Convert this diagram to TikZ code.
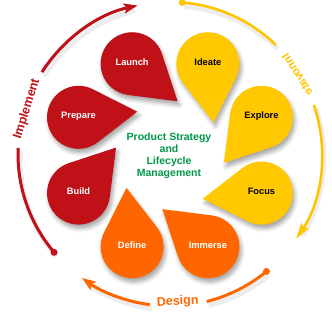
\documentclass[tikz,border=0pt]{standalone}
\usepackage{fontspec}
\setmainfont{Liberation Sans}
\usetikzlibrary{arrows.meta,shadows.blur}
\definecolor{pRed}{RGB}{192,16,24}
\definecolor{pYellow}{RGB}{255,200,0}
\definecolor{pOrange}{RGB}{255,102,0}
\definecolor{pGreen}{RGB}{0,150,72}
\definecolor{ringYellow}{RGB}{255,196,0}

\begin{document}
\begin{tikzpicture}[x=1pt,y=1pt,
  petallabel/.style={font=\fontsize{9.3}{11}\selectfont\bfseries, inner sep=0pt},
  petalshadow/.style={blur shadow={shadow xshift=2pt, shadow yshift=-4pt,
      shadow blur radius=4pt, shadow opacity=35}},
  ringline/.style={line width=3pt},
  ringshade/.style={line width=5pt, black, opacity=0.07},
  ringtip/.style={-{Stealth[length=14pt,width=10pt,inset=3pt]}},
  ringtext/.style={font=\fontsize{12.5}{14}\selectfont\bfseries, inner sep=0pt, transform shape},
  titletext/.style={font=\fontsize{10.5}{12.2}\selectfont\bfseries, align=center, inner sep=0pt}]
\useasboundingbox (-170,-178) rectangle (162,154);

% soft shadows under the three rings
\begin{scope}[xshift=2pt, yshift=-4pt]
  \draw[ringshade] (220.3:152pt) arc[start angle=220.3, end angle=177.7, radius=152pt];
  \draw[ringshade] (147.4:152pt) arc[start angle=147.4, end angle=104, radius=152pt];
  \draw[ringshade] (85.4:152pt) arc[start angle=85.4, end angle=45.8, radius=152pt];
  \draw[ringshade] (18.8:152pt) arc[start angle=18.8, end angle=-31, radius=152pt];
  \draw[ringshade] (-50.6:152pt) arc[start angle=-50.6, end angle=-76, radius=152pt];
  \draw[ringshade] (-97.6:152pt) arc[start angle=-97.6, end angle=-123, radius=152pt];
\end{scope}

% start points of the rings
\coordinate (implStart) at (220.3:152pt);
\coordinate (implResume) at (147.4:152pt);
\coordinate (innoStart) at (85.4:152pt);
\coordinate (innoResume) at (18.8:152pt);
\coordinate (desStart) at (-50.6:152pt);
\coordinate (desResume) at (-97.6:152pt);

% Implement ring (red)
\draw[ringline, pRed] (implStart) arc[start angle=220.3, end angle=177.7, radius=152pt];
\draw[ringline, pRed, ringtip] (implResume) arc[start angle=147.4, end angle=102.3, radius=152pt];
\fill[pRed] (implStart) circle[radius=3.5pt];

% Innovate ring (yellow)
\draw[line width=2.6pt, ringYellow] (innoStart) arc[start angle=85.4, end angle=45.8, radius=152pt];
\draw[line width=2.6pt, ringYellow, -{Stealth[length=16pt,width=9pt,inset=3pt]}] (innoResume) arc[start angle=18.8, end angle=-33.9, radius=152pt];
\fill[ringYellow] (innoStart) circle[radius=3.4pt];

% Design ring (orange)
\draw[ringline, pOrange] (desStart) arc[start angle=-50.6, end angle=-76, radius=152pt];
\draw[ringline, pOrange, ringtip] (desResume) arc[start angle=-97.6, end angle=-125.4, radius=152pt];
\fill[pOrange] (desStart) circle[radius=3.5pt];

% ring captions
\begin{scope}[shift={(162.5:150pt)}, rotate=72.5]
  \node[ringtext, pRed] (implement) at (0,0) {Implement};
\end{scope}
\begin{scope}[shift={(-87:148pt)}, rotate=3]
  \node[ringtext, pOrange] (design) at (0,0) {Design};
\end{scope}
% reads clockwise down the ring, letters mirrored with their tops towards the centre
\begin{scope}[cm={0.530,-0.848,-0.848,-0.530,(127.2pt,79.5pt)}]
  \node[ringtext, ringYellow, font=\fontsize{11.5}{13}\selectfont\bfseries] (innovate) at (0,0) {Innovate};
\end{scope}

% petals: circle of radius 31.5 with a tip 59 away, pinwheel around the centre
\begin{scope}[yshift=-1.2pt]
  \foreach \ang in {112.5,67.5,22.5,-22.5,-67.5,-112.5,-157.5,157.5}{
    \pgfmathsetmacro\tipang{\ang+208}
    \pgfmathsetmacro\sa{\tipang+57.73}
    \pgfmathsetmacro\ea{\tipang+302.27}
    \path[petalshadow, shift={(\ang:99pt)}] (\tipang:59pt) -- (\sa:31.5pt)
      arc[start angle=\sa, end angle=\ea, radius=31.5pt] -- cycle;
  }
  \foreach \ang/\name/\col/\tcol/\txt in {
      112.5/launch/pRed/white/Launch,
      67.5/ideate/pYellow/black/Ideate,
      22.5/explore/pYellow/black/Explore,
      -22.5/focus/pYellow/black/Focus,
      -67.5/immerse/pOrange/white/Immerse,
      -112.5/define/pOrange/white/Define,
      -157.5/build/pRed/white/Build,
      157.5/prepare/pRed/white/Prepare}{
    \pgfmathsetmacro\tipang{\ang+208}
    \pgfmathsetmacro\sa{\tipang+57.73}
    \pgfmathsetmacro\ea{\tipang+302.27}
    \fill[\col, shift={(\ang:99pt)}] (\tipang:59pt) -- (\sa:31.5pt)
      arc[start angle=\sa, end angle=\ea, radius=31.5pt] -- cycle;
    \node[petallabel, text=\tcol] (\name) at ([yshift=1.5pt]\ang:99pt) {\txt};
  }
\end{scope}

% centre title
\node[titletext, pGreen] (title) at (-1,-2) {Product Strategy\\and\\Lifecycle\\Management};
\end{tikzpicture}
\end{document}
